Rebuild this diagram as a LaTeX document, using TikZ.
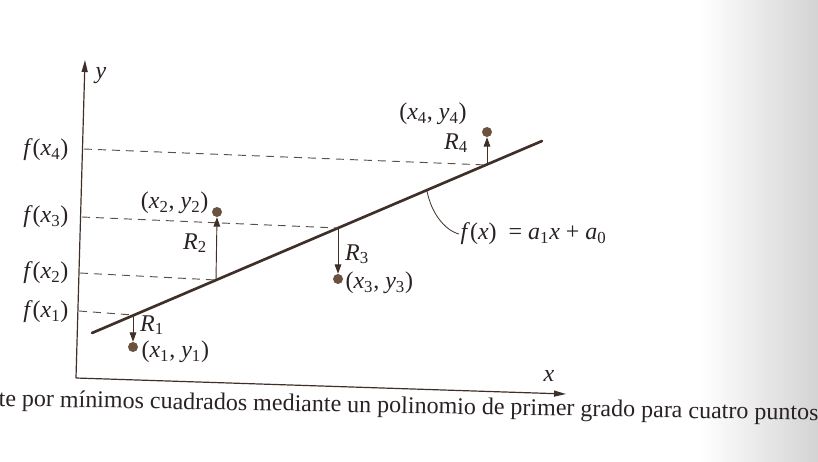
\documentclass[tikz,border=0pt]{standalone}
\usepackage{fontspec}
\setmainfont{Liberation Serif}
\usetikzlibrary{arrows.meta}
\definecolor{ink}{HTML}{3E3028}
\definecolor{dotc}{HTML}{6B5240}
\definecolor{txt}{HTML}{2A2222}
\newcommand{\ix}[1]{\textit{x}\textsubscript{#1}}
\newcommand{\iy}[1]{\textit{y}\textsubscript{#1}}
\newcommand{\ia}[1]{\textit{a}\textsubscript{#1}}
\newcommand{\Rr}[1]{\textit{R}\textsubscript{#1}}
\begin{document}
\begin{tikzpicture}[x=0.75pt,y=-0.75pt,
  lbl/.style={text=txt,font=\fontsize{18}{20}\selectfont,inner sep=1pt},
  axisln/.style={draw=ink,line width=0.9pt,-{Triangle[length=9pt,width=4.5pt]}},
  dashln/.style={draw=ink!85,line width=0.7pt,dash pattern=on 6pt off 4.5pt},
  fitln/.style={draw=ink,line width=2pt,line cap=round},
  resid/.style={draw=ink,line width=0.7pt,-{Triangle[length=7pt,width=5pt]}},
  datadot/.style={circle,fill=dotc,inner sep=0pt,minimum size=7.5pt}]
\useasboundingbox (0,0) rectangle (818,461);
\shade[left color=white,right color=black!17] (700,0) rectangle (818,461);
% axes
\coordinate (O) at (76,378);
\coordinate (Ytip) at (85,60);
\coordinate (Xtip) at (566,394);
\draw[axisln] (O) -- (Ytip);
\draw[axisln] (O) -- (Xtip);
\node[lbl] (ylab) at (101,76) {\textit{y}};
\node[lbl] (xlab) at (549,376) {\textit{x}};
% fitted line
\coordinate (L0) at (92,333);
\coordinate (L1) at (542,141);
\draw[fitln] (L0) -- (L1);
% points on line
\coordinate (F1) at (133,315);
\coordinate (F2) at (216,280);
\coordinate (F3) at (338,228);
\coordinate (F4) at (487,165);
% axis ticks for dashed lines
\coordinate (A1) at (79,311);
\coordinate (A2) at (80,273);
\coordinate (A3) at (82,217);
\coordinate (A4) at (84,149);
\draw[dashln] (A1) -- (F1);
\draw[dashln] (A2) -- (F2);
\draw[dashln] (A3) -- (F3);
\draw[dashln] (A4) -- (F4);
\node[lbl,anchor=east] (fx1) at (70,312) {\textit{f}(\ix{1})};
\node[lbl,anchor=east] (fx2) at (70,273) {\textit{f}(\ix{2})};
\node[lbl,anchor=east] (fx3) at (70,217) {\textit{f}(\ix{3})};
\node[lbl,anchor=east] (fx4) at (70,150) {\textit{f}(\ix{4})};
% data points
\node[datadot] (P1) at (133,347) {};
\node[datadot] (P2) at (217,212) {};
\node[datadot] (P3) at (338,279) {};
\node[datadot] (P4) at (487,132) {};
\draw[resid] (F1) -- (P1.north);
\draw[resid] (F2) -- (P2.south);
\draw[resid] (F3) -- (P3.north);
\draw[resid] (F4) -- (P4.south);
\node[lbl] (r1) at (152,325) {\Rr{1}};
\node[lbl] (r2) at (195,243) {\Rr{2}};
\node[lbl] (r3) at (357,254) {\Rr{3}};
\node[lbl] (r4) at (456,143) {\Rr{4}};
\node[lbl,anchor=west] (p1) at (140,352) {(\ix{1}, \iy{1})};
\node[lbl,anchor=east] (p2) at (210,203) {(\ix{2}, \iy{2})};
\node[lbl,anchor=west] (p3) at (344,283) {(\ix{3}, \iy{3})};
\node[lbl] (p4) at (433,114) {(\ix{4}, \iy{4})};
% function label
\coordinate (C0) at (427,191);
\node[lbl,anchor=west] (flab) at (459,234) {\textit{f}(\textit{x})\ \ = \ia{1}\textit{x} + \ia{0}};
\draw[ink,line width=0.6pt] (C0) .. controls (431,212) and (444,230) .. (flab.west);
% caption
\node[lbl,anchor=base west,rotate=-1] (cap) at (-3,406) {te por mínimos cuadrados mediante un polinomio de primer grado para cuatro puntos};
\end{tikzpicture}
\end{document}
